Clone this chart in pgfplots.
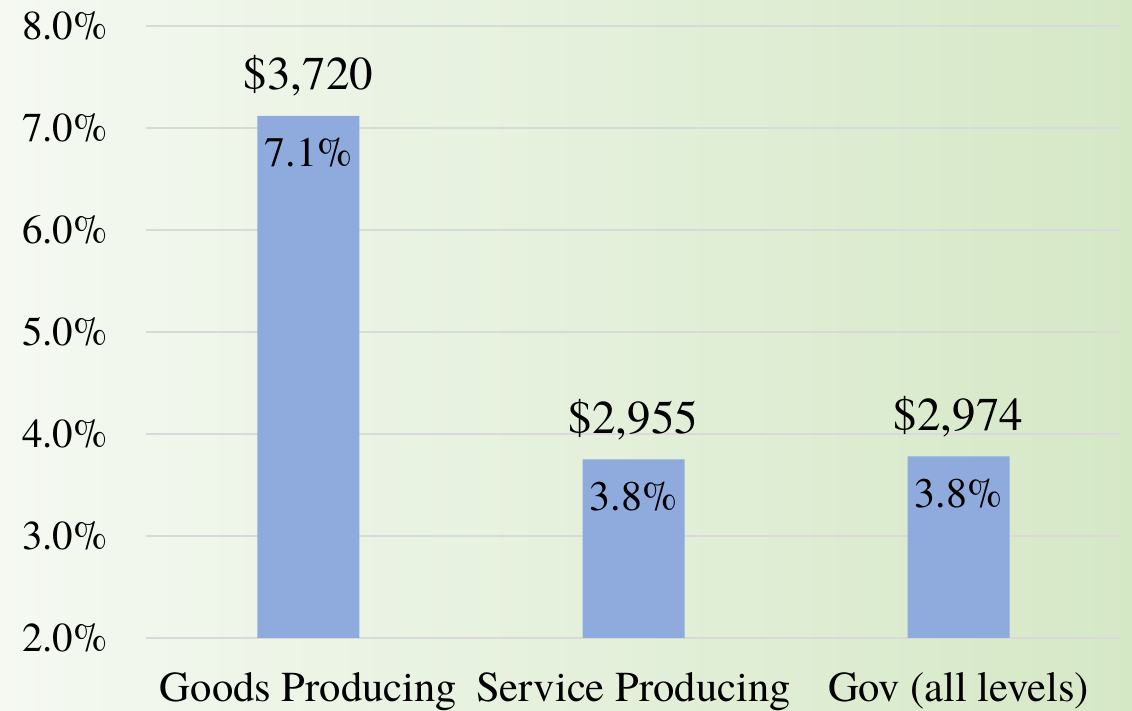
\documentclass[border=0pt]{standalone}
\usepackage{pgfplots}
\pgfplotsset{compat=1.18}
\usepackage{fontspec}
\setmainfont{texgyretermes}[Extension=.otf, UprightFont=*-regular, BoldFont=*-bold, ItalicFont=*-italic]
\definecolor{barblue}{RGB}{143,170,220}
\definecolor{bgleft}{RGB}{245,249,242}
\definecolor{bgright}{RGB}{213,232,198}
\definecolor{gridgray}{RGB}{217,217,217}
\begin{document}
\begin{tikzpicture}
\shade[left color=bgleft, right color=bgright] (0,0) rectangle (566pt,355.5pt);
\useasboundingbox (0,0) rectangle (566pt,355.5pt);
\begin{axis}[
  at={(73pt,36.5pt)}, anchor=south west,
  scale only axis, width=487.5pt, height=306pt,
  xmin=-0.5, xmax=2.5, ymin=2, ymax=8,
  xtick={0,1,2},
  xticklabels={Goods Producing,Service Producing,Gov (all levels)},
  ytick={2,3,4,5,6,7,8},
  yticklabels={2.0\%,3.0\%,4.0\%,5.0\%,6.0\%,7.0\%,8.0\%},
  ymajorgrids, grid style={gridgray, line width=1pt},
  axis line style={draw=none},
  major tick length=0pt,
  yticklabel style={font=\rmfamily\fontsize{20.5}{24}\selectfont, anchor=east, inner sep=0pt, xshift=-19pt},
  xticklabel style={font=\rmfamily\fontsize{21.3}{24}\selectfont, anchor=base, inner sep=0pt, yshift=-32pt},
  ybar, bar width=51pt,
  point meta=explicit symbolic,
  nodes near coords,
  clip=false,
]
\addplot[fill=barblue, draw=none, bar shift=0pt,
  every node near coord/.style={anchor=base, yshift=-25.5pt, inner sep=0pt, font=\rmfamily\fontsize{21}{24}\selectfont, text=black}]
  coordinates {(0,7.12) [{7.1\%}] (1,3.75) [{3.8\%}] (2,3.78) [{3.8\%}]};
\addplot[fill=none, draw=none, bar shift=0pt,
  every node near coord/.style={anchor=base, yshift=13pt, inner sep=0pt, font=\rmfamily\fontsize{23.5}{28}\selectfont, text=black}]
  coordinates {(0,7.12) [{\$3,720}] (1,3.75) [{\$2,955}] (2,3.78) [{\$2,974}]};
\end{axis}
\end{tikzpicture}
\end{document}
